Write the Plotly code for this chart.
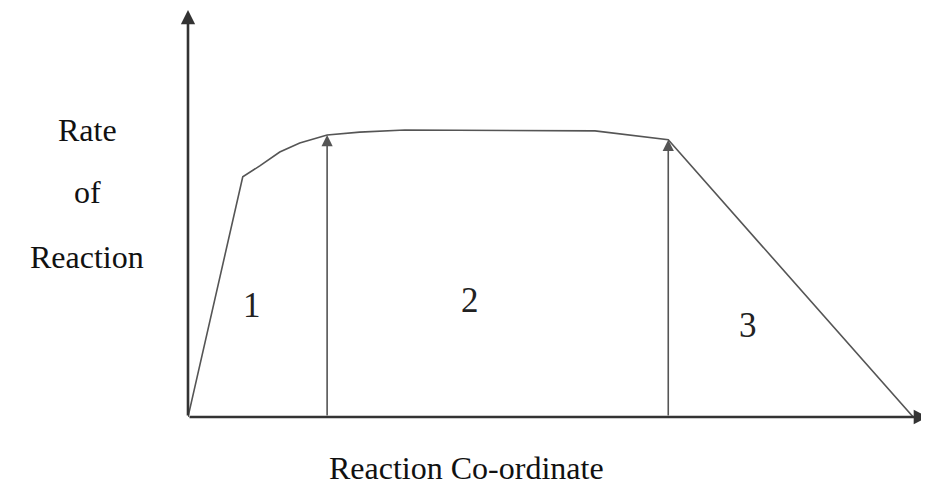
import plotly.graph_objects as go

# Curve (reaction coordinate, rate)
curve_x = [0.0, 0.74, 0.97, 1.24, 1.51, 1.88, 2.32, 2.93, 5.50, 6.49, 9.80]
curve_y = [0.0, 5.90, 6.17, 6.51, 6.73, 6.93, 7.00, 7.05, 7.03, 6.81, 0.0]

# Region boundary arrows
boundary_x = [1.88, 6.49]
boundary_y = [6.93, 6.81]

# Region labels
region_labels = ["1", "2", "3"]
region_x = [0.86, 3.81, 7.57]
region_y = [2.75, 2.87, 2.26]

y_title_lines = ["Rate", "of", "Reaction"]
x_title = "Reaction Co-ordinate"

FONT = "Liberation Serif, Times New Roman, serif"
AX = "#333333"
LN = "#555555"

fig = go.Figure()
fig.add_trace(go.Scatter(x=curve_x, y=curve_y, mode="lines",
                         line=dict(color=LN, width=1.6), hoverinfo="skip",
                         showlegend=False))

ann = []
# axes with arrowheads
ann.append(dict(x=0, y=10, ax=0, ay=0, xref="x", yref="y", axref="x", ayref="y",
                showarrow=True, arrowhead=2, arrowsize=1.1, arrowwidth=2.6,
                arrowcolor=AX, text=""))
ann.append(dict(x=10, y=0, ax=0, ay=0, xref="x", yref="y", axref="x", ayref="y",
                showarrow=True, arrowhead=2, arrowsize=1.1, arrowwidth=2.6,
                arrowcolor=AX, text=""))
for bx, by in zip(boundary_x, boundary_y):
    ann.append(dict(x=bx, y=by, ax=bx, ay=0, xref="x", yref="y", axref="x", ayref="y",
                    showarrow=True, arrowhead=2, arrowsize=1.4, arrowwidth=1.6,
                    arrowcolor=LN, text=""))
for t, x, y in zip(region_labels, region_x, region_y):
    ann.append(dict(x=x, y=y, xref="x", yref="y", text=t, showarrow=False,
                    xanchor="center", yanchor="middle",
                    font=dict(family=FONT, size=35, color="#222222")))

# plot area in page pixels: x 188..928, y 10..417
def px(x):
    return (x - 188) / 740

def py(y):
    return (417 - y) / 407

for t, yy in zip(y_title_lines, [130, 192, 257]):
    ann.append(dict(x=px(87), y=py(yy), xref="paper", yref="paper",
                    xanchor="center", yanchor="middle",
                    text=t, showarrow=False,
                    font=dict(family=FONT, size=32, color="#111111")))
ann.append(dict(x=px(466), y=py(468), xref="paper", yref="paper",
                xanchor="center", yanchor="middle",
                text=x_title, showarrow=False,
                font=dict(family=FONT, size=32, color="#111111")))

fig.update_layout(
    width=921, height=484,
    margin=dict(l=180, r=1, t=2, b=75),
    paper_bgcolor="white", plot_bgcolor="white",
    xaxis=dict(range=[0, 10], visible=False, fixedrange=True),
    yaxis=dict(range=[0, 10], visible=False, fixedrange=True),
    annotations=ann,
)
fig.write_html("out.html")
